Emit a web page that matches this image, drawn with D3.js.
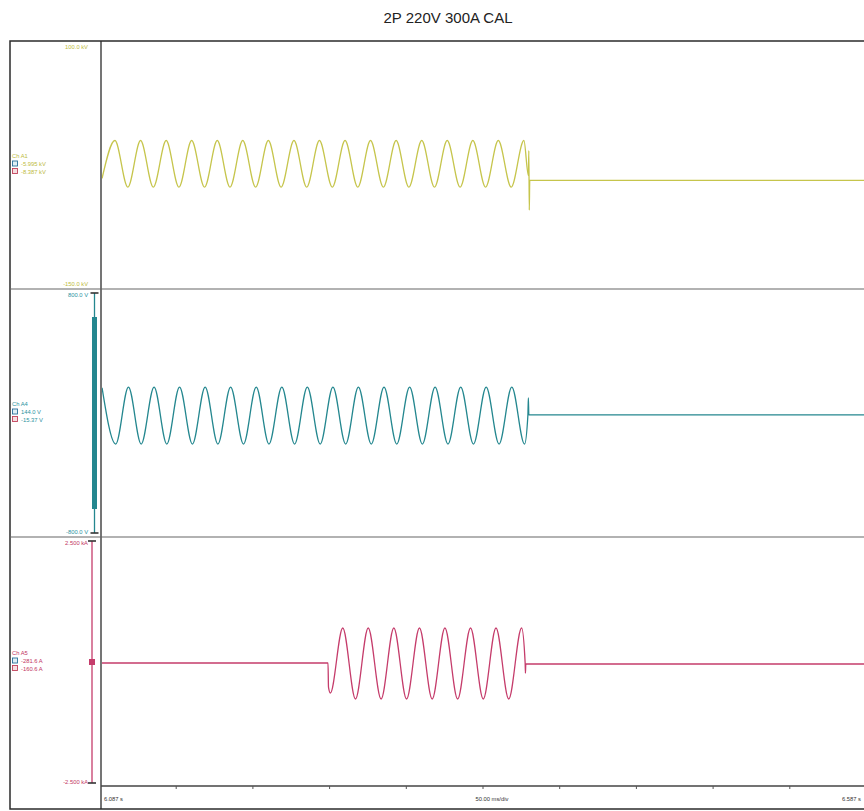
<!DOCTYPE html>
<html>
<head>
<meta charset="utf-8">
<script src="https://cdn.jsdelivr.net/npm/d3@7"></script>
<style>
  body { margin: 0; background: #fff; }
  svg text { font-family: "Liberation Sans", Arial, sans-serif; }
</style>
</head>
<body>
<svg id="scope" width="864" height="811"></svg>
<script>
// time is in ms after 6.087 s, one screen = 500 ms
var timeDomain = [0, 500];
var timeTicks = [0, 50, 100, 150, 200, 250, 300, 350, 400, 450, 500];
var timeLabels = ["6.087 s", "50.00 ms/div", "6.587 s"];
var title = "2P 220V 300A CAL";

// Ch A1 (kV) – turning points of the trace
var chA1Time = [2.0, 10.4, 18.8, 27.1, 35.4, 43.8, 52.1, 60.4, 68.8, 77.1, 85.4, 93.7, 102.1, 110.4, 118.7, 127.1, 135.4,
  143.7, 152.1, 160.4, 168.7, 177.0, 185.4, 193.7, 202.0, 210.4, 218.7, 227.0, 235.4, 243.7, 252.0, 260.3, 268.7, 277.0,
  279.9, 280.2, 280.5, 280.8, 500];
var chA1Value = [-39, 0.5, -48, 0.5, -48, 0.5, -48, 0.5, -48, 0.5, -48, 0.5, -48, 0.5, -48, 0.5, -48,
  0.5, -48, 0.5, -48, 0.5, -48, 0.5, -48, 0.5, -48, 0.5, -48, 0.5, -48, 0.5, -48, 0.5,
  -36, -10, -72, -41, -41];

// Ch A4 (V)
var chA4Time = [2.0, 10.9, 19.2, 27.5, 35.9, 44.2, 52.5, 60.9, 69.2, 77.5, 85.8, 94.2, 102.5, 110.8, 119.2, 127.5, 135.8,
  144.2, 152.5, 160.8, 169.1, 177.5, 185.8, 194.1, 202.5, 210.8, 219.1, 227.5, 235.8, 244.1, 252.4, 260.8, 269.1, 277.4,
  279.6, 279.9, 280.2, 500];
var chA4Value = [168, -207, 173, -207, 173, -207, 173, -207, 173, -207, 173, -207, 173, -207, 173, -207, 173,
  -207, 173, -207, 173, -207, 173, -207, 173, -207, 173, -207, 173, -207, 173, -207, 173, -207,
  -13, 100, -13, -13];

// Ch A5 (A)
var chA5Time = [1.5, 149.3, 149.6, 150.8, 158.9, 167.2, 175.5, 183.9, 192.2, 200.5, 208.9, 217.2, 225.5, 233.8, 242.2,
  250.5, 258.8, 267.1, 275.5, 277.8, 278.0, 278.2, 278.5, 500];
var chA5Value = [-21, -21, -520, -640, 702, -764, 702, -764, 702, -764, 702, -764, 702, -764, 702,
  -764, 702, -764, 702, -21, -230, -60, -41, -41];

// channel legends
var chNames = ["Ch A1", "Ch A4", "Ch A5"];
var chRangeTop = ["100.0 kV", "800.0 V", "2.500 kA"];
var chRangeBottom = ["-150.0 kV", "-800.0 V", "-2.500 kA"];
var chCursor1 = ["-5.995 kV", "144.0 V", "-281.6 A"];
var chCursor2 = ["-8.387 kV", "-15.37 V", "-160.6 A"];
var chDomains = [[-150, 100], [-800, 800], [-2500, 2500]];

var svg = d3.select("#scope");
var colors = ["#c6c54c", "#24878f", "#c53c6b"];
var textColors = ["#bdbb3e", "#2a93a0", "#c23463"];

var left = 101, frameLeft = 10, frameTop = 41, frameBottom = 809, axisY = 787;
var panels = [[41, 289], [289, 537], [537, 787]];

var x = d3.scaleLinear().domain(timeDomain).range([99, 866]);

// title
svg.append("text").attr("x", 448).attr("y", 23).attr("text-anchor", "middle")
  .attr("font-size", 15).attr("fill", "#222").text(title);

// frame and separators
svg.append("rect").attr("x", frameLeft).attr("y", frameTop).attr("width", 900).attr("height", frameBottom - frameTop)
  .attr("fill", "none").attr("stroke", "#2b2b2b").attr("stroke-width", 1.5);
svg.append("line").attr("x1", left).attr("x2", left).attr("y1", frameTop).attr("y2", frameBottom)
  .attr("stroke", "#2b2b2b").attr("stroke-width", 1.3);
[289, 537].forEach(function (yy) {
  svg.append("line").attr("x1", frameLeft).attr("x2", 864).attr("y1", yy).attr("y2", yy)
    .attr("stroke", "#666").attr("stroke-width", 1.1);
});

var series = [
  { t: chA1Time, v: chA1Value },
  { t: chA4Time, v: chA4Value },
  { t: chA5Time, v: chA5Value }
];

svg.append("clipPath").attr("id", "plotclip").append("rect")
  .attr("x", left + 1).attr("y", frameTop).attr("width", 864 - left).attr("height", axisY - frameTop);

series.forEach(function (s, i) {
  var y = d3.scaleLinear().domain(chDomains[i]).range([panels[i][1] - 4, panels[i][0] + 4]);
  var pts = s.t.map(function (t, k) { return [t, s.v[k]]; });
  var line = d3.line()
    .x(function (d) { return x(d[0]); })
    .y(function (d) { return y(d[1]); })
    .curve(d3.curveMonotoneX);

  svg.append("path").datum(pts)
    .attr("clip-path", "url(#plotclip)")
    .attr("d", line).attr("fill", "none")
    .attr("stroke", colors[i]).attr("stroke-width", 1.3);

  var g = svg.append("g").attr("font-size", 5.8).attr("fill", textColors[i]);
  // range labels
  g.append("text").attr("x", 88).attr("y", y(chDomains[i][1]) + 4).attr("text-anchor", "end").text(chRangeTop[i]);
  g.append("text").attr("x", 88).attr("y", y(chDomains[i][0]) + 1).attr("text-anchor", "end").text(chRangeBottom[i]);

  // channel legend
  var cy = (panels[i][0] + panels[i][1]) / 2 - 7;
  g.append("text").attr("x", 12).attr("y", cy).text(chNames[i]);
  g.append("rect").attr("x", 12.5).attr("y", cy + 3).attr("width", 5).attr("height", 5)
    .attr("fill", "#dfeff5").attr("stroke", "#2a6f9a").attr("stroke-width", 0.9);
  g.append("text").attr("x", 21).attr("y", cy + 8).text(chCursor1[i]);
  g.append("rect").attr("x", 12.5).attr("y", cy + 10.5).attr("width", 5).attr("height", 5)
    .attr("fill", "#f6dde0").attr("stroke", "#c0405a").attr("stroke-width", 0.9);
  g.append("text").attr("x", 21).attr("y", cy + 15.5).text(chCursor2[i]);

  // scale bar for A4 and A5
  if (i > 0) {
    var bx = i === 1 ? 94.5 : 92;
    var yt = y(chDomains[i][1]), yb = y(chDomains[i][0]);
    svg.append("line").attr("x1", bx).attr("x2", bx).attr("y1", yt).attr("y2", yb)
      .attr("stroke", colors[i]).attr("stroke-width", 1.3);
    [yt, yb].forEach(function (yy) {
      svg.append("line").attr("x1", bx - 4).attr("x2", bx + 4).attr("y1", yy).attr("y2", yy)
        .attr("stroke", "#333").attr("stroke-width", 1.6);
    });
    if (i === 1) {
      svg.append("rect").attr("x", bx - 2.5).attr("y", y(640)).attr("width", 5).attr("height", y(-640) - y(640))
        .attr("fill", colors[i]);
    } else {
      svg.append("rect").attr("x", bx - 3).attr("y", y(0) - 3).attr("width", 6).attr("height", 6)
        .attr("fill", colors[i]);
    }
  }
});

// time axis
var axis = d3.axisBottom(x).tickValues(timeTicks.slice(1, -1)).tickFormat("").tickSizeInner(3).tickSizeOuter(0);
var ax = svg.append("g").attr("transform", "translate(0," + (axisY - 1) + ")").call(axis);
ax.select(".domain").attr("stroke", "#444").attr("stroke-width", 1.6).attr("d", "M" + left + ",0H864");
ax.selectAll(".tick line").attr("stroke", "#555");

var tl = svg.append("g").attr("font-size", 5.8).attr("fill", "#333");
tl.append("text").attr("x", x(timeTicks[0]) + 5).attr("y", 801).text(timeLabels[0]);
tl.append("text").attr("x", x(250) - 7).attr("y", 801).text(timeLabels[1]);
tl.append("text").attr("x", x(500) - 5).attr("y", 801).attr("text-anchor", "end").text(timeLabels[2]);
</script>
</body>
</html>
